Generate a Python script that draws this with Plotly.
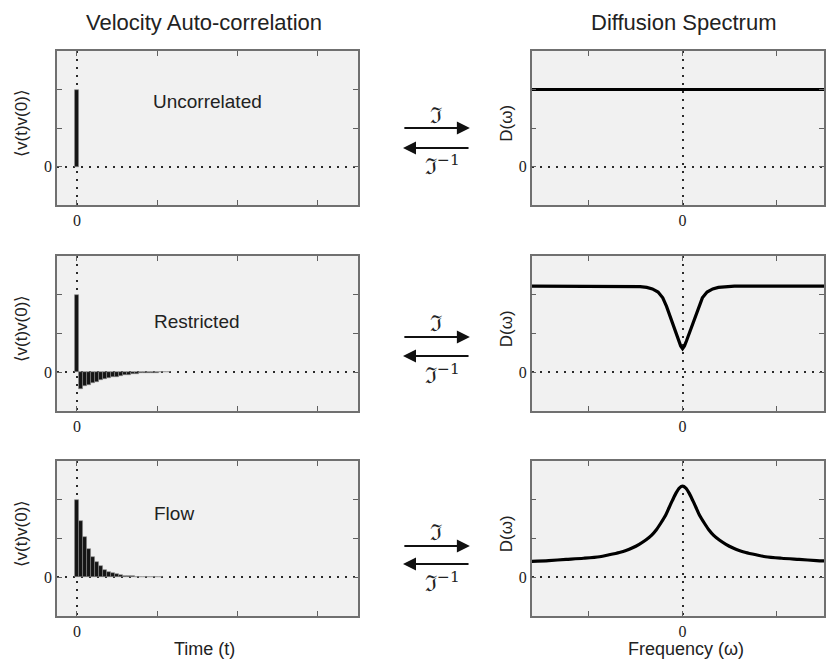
import plotly.graph_objects as go
from plotly.subplots import make_subplots

W, H = 826, 662

# velocity auto-correlation bars (time steps)
t_uncorr = [0]
v_uncorr = [2.0]

v_restricted = [2.0, -0.42, -0.36, -0.32, -0.28, -0.245, -0.21, -0.185, -0.16, -0.135,
                -0.115, -0.095, -0.075, -0.06, -0.045, -0.035, -0.025, -0.02, -0.015,
                -0.011, -0.008, -0.006, -0.004, -0.003]
t_restricted = list(range(len(v_restricted)))

v_flow = [2.0, 1.45, 1.03, 0.73, 0.53, 0.39, 0.28, 0.20, 0.14, 0.10, 0.075, 0.055,
          0.04, 0.03, 0.022, 0.016, 0.012, 0.009, 0.006, 0.004, 0.003, 0.002]
t_flow = list(range(len(v_flow)))

# diffusion spectra
w_flat = [-1.6, 1.6]
d_flat = [2.0, 2.0]

w_restricted = [-1.6, -1.2, -0.9, -0.7, -0.55, -0.45, -0.38, -0.32, -0.26, -0.21, -0.17,
                -0.13, -0.1, -0.07, -0.04, -0.02, 0.0, 0.02, 0.04, 0.07, 0.1, 0.13, 0.17,
                0.21, 0.26, 0.32, 0.38, 0.45, 0.55, 0.7, 0.9, 1.2, 1.6]
d_restricted = [2.22, 2.22, 2.22, 2.22, 2.22, 2.21, 2.19, 2.15, 2.07, 1.92, 1.7,
                1.42, 1.2, 1.0, 0.8, 0.68, 0.61, 0.68, 0.8, 1.0, 1.2, 1.42, 1.7,
                1.92, 2.07, 2.15, 2.19, 2.21, 2.22, 2.22, 2.22, 2.22, 2.22]

w_flow = [-1.6, -1.42, -1.235, -1.05, -0.88, -0.78, -0.67, -0.6, -0.53, -0.46, -0.39,
          -0.33, -0.28, -0.23, -0.18, -0.15, -0.11, -0.07, -0.035, 0.0, 0.035, 0.07,
          0.11, 0.15, 0.18, 0.23, 0.28, 0.33, 0.39, 0.46, 0.53, 0.6, 0.67, 0.78, 0.88,
          1.05, 1.235, 1.42, 1.6]
d_flow = [0.41, 0.43, 0.46, 0.49, 0.53, 0.58, 0.64, 0.69, 0.76, 0.85, 0.96,
          1.08, 1.22, 1.40, 1.60, 1.76, 1.97, 2.17, 2.30, 2.35, 2.30, 2.17,
          1.97, 1.76, 1.60, 1.40, 1.22, 1.08, 0.96, 0.85, 0.76, 0.69, 0.64, 0.58, 0.53,
          0.49, 0.46, 0.43, 0.41]

labels = ["Uncorrelated", "Restricted", "Flow"]

fig = make_subplots(rows=3, cols=2)

bar_style = dict(marker=dict(color="#151515", line=dict(color="#8a8a8a", width=0.6)),
                 width=1, showlegend=False)
for r, (t, v) in enumerate([(t_uncorr, v_uncorr), (t_restricted, v_restricted),
                            (t_flow, v_flow)], start=1):
    fig.add_trace(go.Bar(x=t, y=v, **bar_style), row=r, col=1)

curve_shapes = ["linear", "linear", "spline"]
for r, (w, d) in enumerate([(w_flat, d_flat), (w_restricted, d_restricted),
                            (w_flow, d_flow)], start=1):
    line = dict(color="black", width=3.2, shape=curve_shapes[r - 1])
    if line["shape"] == "spline":
        line["smoothing"] = 0.8
    fig.add_trace(go.Scatter(x=w, y=d, mode="lines", line=line, showlegend=False),
                  row=r, col=2)

# panel positions in pixels: (top, bottom)
rows_px = [(51, 205), (256, 411), (461, 616)]
left_px = (57, 359)
right_px = (533, 826)


def px_x(p):
    return p / W


def px_y(p):
    return 1 - p / H


axis_common = dict(
    showline=True, linecolor="#707070", linewidth=1.5, mirror="ticks",
    ticks="inside", ticklen=5, tickcolor="#606060", tickwidth=1,
    showgrid=True, gridcolor="#2a2a2a", gridwidth=1.6, griddash="2px,6px",
    zeroline=False, fixedrange=True,
    tickfont=dict(family="Liberation Serif", size=16, color="#222"),
)

for r, (top, bot) in enumerate(rows_px, start=1):
    for c in (1, 2):
        idx = (r - 1) * 2 + c
        xa = "xaxis" if idx == 1 else f"xaxis{idx}"
        ya = "yaxis" if idx == 1 else f"yaxis{idx}"
        xl, xr = left_px if c == 1 else right_px
        if c == 1:
            xrange, xminor = [-5, 70], [20, 40, 60]
        else:
            xrange, xminor = [-1.6, 1.5], [-1, 1]
        fig.layout[xa].update(
            domain=[px_x(xl), px_x(xr)], range=xrange,
            tickvals=[0], ticktext=["0"],
            minor=dict(tickvals=xminor, ticks="inside", ticklen=5, tickcolor="#606060",
                       showgrid=False),
            **axis_common)
        fig.layout[ya].update(
            domain=[px_y(bot), px_y(top)], range=[-1, 3],
            tickvals=[0], ticktext=["0"],
            minor=dict(tickvals=[1, 2], ticks="inside", ticklen=5, tickcolor="#606060",
                       showgrid=False),
            **axis_common)

ann = []
sans = "Liberation Sans"
serif = "DejaVu Serif"
ann.append(dict(text="Velocity Auto-correlation", x=px_x(204), y=px_y(22),
                font=dict(family=sans, size=22, color="#222")))
ann.append(dict(text="Diffusion Spectrum", x=px_x(685), y=px_y(22),
                font=dict(family=sans, size=22, color="#222")))
for lab, xc, yc in zip(labels, [208, 197, 174], [102, 321, 513]):
    ann.append(dict(text=lab, x=px_x(xc), y=px_y(yc),
                    font=dict(family=sans, size=19, color="#222")))
for top, bot in rows_px:
    yc = (top + bot) / 2
    ann.append(dict(text="\u27e8v(t)v(0)\u27e9", x=px_x(22), y=px_y(yc - 5), textangle=-90,
                    font=dict(family=sans, size=17, color="#222")))
    ann.append(dict(text="D(\u03c9)", x=px_x(508), y=px_y(yc - 5), textangle=-90,
                    font=dict(family=sans, size=17, color="#222")))
ann.append(dict(text="Time (t)", x=px_x(205), y=px_y(649),
                font=dict(family=sans, size=18, color="#222")))
ann.append(dict(text="Frequency (\u03c9)", x=px_x(688), y=px_y(649),
                font=dict(family=sans, size=18, color="#222")))

# Fourier transform arrows between the columns
arrow_rows = [(128, 148, 115, 168), (337, 356, 323, 377), (546, 564, 532, 585)]
for y_fwd, y_inv, y_f, y_finv in arrow_rows:
    ann.append(dict(text="", x=px_x(471), y=px_y(y_fwd), ax=-67, ay=0, showarrow=True,
                    arrowhead=2, arrowsize=1.3, arrowwidth=2, arrowcolor="#111"))
    ann.append(dict(text="", x=px_x(404), y=px_y(y_inv), ax=67, ay=0, showarrow=True,
                    arrowhead=2, arrowsize=1.3, arrowwidth=2, arrowcolor="#111"))
    ann.append(dict(text="\u2111", x=px_x(437), y=px_y(y_f),
                    font=dict(family=serif, size=22, color="#222")))
    ann.append(dict(text="\u2111<sup>\u22121</sup>", x=px_x(444), y=px_y(y_finv - 3),
                    font=dict(family=serif, size=22, color="#222")))

for a in ann:
    a.setdefault("xref", "paper")
    a.setdefault("yref", "paper")
    a.setdefault("showarrow", False)
    a.setdefault("xanchor", "center")
    a.setdefault("yanchor", "middle")

fig.update_layout(
    width=W, height=H,
    margin=dict(l=0, r=0, t=0, b=0),
    paper_bgcolor="white",
    plot_bgcolor="#f1f1f1",
    bargap=0,
    annotations=ann,
    showlegend=False,
)

# drop the page's default body margin so the figure sits at the window's corner
fig.write_html("out.html", config={"displayModeBar": False},
               post_script="document.body.style.margin='0';")
